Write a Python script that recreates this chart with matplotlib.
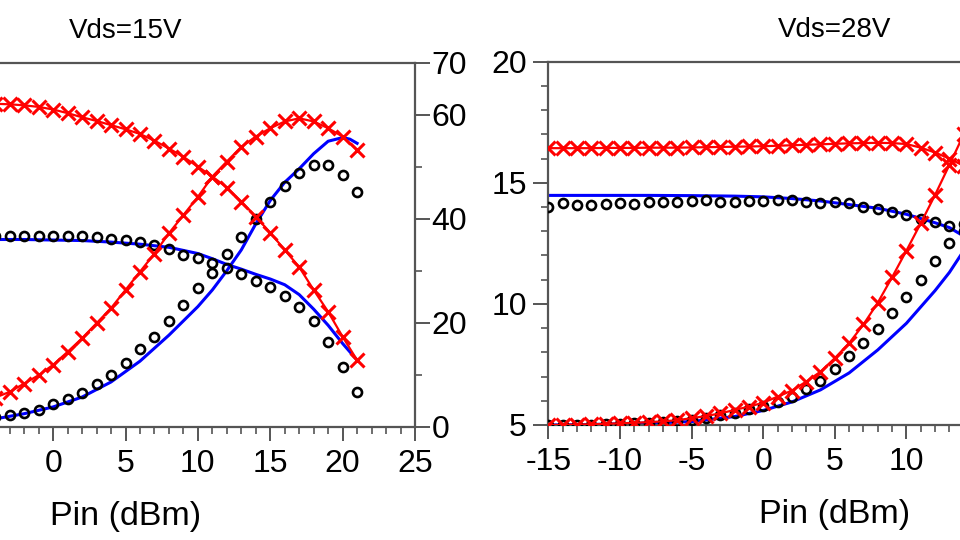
import matplotlib
matplotlib.use("Agg")
import matplotlib.pyplot as plt
from matplotlib.ticker import MultipleLocator, FixedLocator

plt.rcParams['font.family'] = ['Liberation Sans', 'DejaVu Sans']
plt.rcParams['axes.unicode_minus'] = False

# ---------------- Data: Vds = 15 V (values on right-hand axis scale) ----------------
pin15 = [-5, -4, -3, -2, -1, 0, 1, 2, 3, 4, 5, 6, 7, 8, 9, 10, 11, 12, 13, 14, 15, 16, 17, 18, 19, 20, 21]
gain15_meas_x = [62.3, 62.1, 62.0, 61.8, 61.5, 61.0, 60.3, 59.5, 58.8, 58.0, 57.2, 56.3, 55.0, 53.5, 51.9,
                 50.0, 48.1, 46.0, 43.3, 40.4, 37.3, 34.0, 30.7, 26.3, 22.1, 17.3, 12.8]
pae15_meas_x = [4.6, 5.6, 6.7, 8.3, 9.9, 11.9, 14.4, 17.0, 19.9, 22.8, 26.3, 29.8, 33.3, 37.2, 40.7,
                44.2, 48.1, 51.0, 53.8, 55.8, 57.4, 58.7, 59.3, 58.7, 57.4, 55.8, 53.2]
gain15_meas_o = [36.6, 36.6, 36.6, 36.6, 36.6, 36.6, 36.6, 36.6, 36.5, 36.1, 35.9, 35.5, 34.9, 34.1, 33.0,
                 32.4, 31.5, 30.6, 29.4, 28.1, 26.9, 25.1, 23.0, 20.4, 16.2, 11.5, 6.7]
pae15_meas_o = [1.5, 1.9, 2.25, 2.7, 3.3, 4.4, 5.3, 6.5, 8.2, 9.9, 12.2, 14.9, 17.3, 20.4, 23.4,
                26.6, 29.6, 33.2, 36.5, 39.9, 43.3, 46.3, 48.7, 50.3, 50.3, 48.4, 45.2]
pin15_sim = [-5, -4, -2, 0, 2, 4, 6, 8, 10, 11, 12, 13, 14, 15, 16, 17, 18, 19, 20, 20.5, 21]
gain15_sim = [36.0, 36.0, 36.0, 35.9, 35.8, 35.5, 35.1, 34.5, 33.3, 32.3, 31.2, 30.3, 29.3, 28.4, 27.3,
              25.4, 22.6, 19.5, 16.0, 14.4, 12.8]
pae15_sim = [1.2, 1.5, 2.5, 3.8, 5.7, 8.6, 12.6, 17.6, 23.1, 26.3, 30.0, 34.0, 39.0, 43.5, 47.0,
             49.6, 52.5, 54.9, 55.6, 55.3, 54.5]

# ---------------- Data: Vds = 28 V (values on left-hand axis scale) ----------------
pin28 = [-15, -14, -13, -12, -11, -10, -9, -8, -7, -6, -5, -4, -3, -2, -1, 0,
         1, 2, 3, 4, 5, 6, 7, 8, 9, 10, 11, 12, 13, 14, 15]
gain28_meas_x = [16.43, 16.43, 16.43, 16.43, 16.44, 16.44, 16.44, 16.45, 16.45, 16.45, 16.46, 16.47, 16.48,
                 16.49, 16.50, 16.51, 16.53, 16.55, 16.57, 16.59, 16.61, 16.63, 16.64, 16.65, 16.64, 16.60,
                 16.45, 16.25, 16.00, 15.70, 15.30]
pae28_meas_x = [5.0, 5.0, 5.02, 5.03, 5.05, 5.07, 5.09, 5.12, 5.15, 5.2, 5.28, 5.37, 5.48, 5.62, 5.76, 5.92,
                6.17, 6.42, 6.79, 7.2, 7.76, 8.38, 9.15, 10.05, 11.1, 12.2, 13.33, 14.5, 15.74, 17.0, 18.2]
gain28_meas_o = [14.02, 14.15, 14.08, 14.1, 14.13, 14.15, 14.13, 14.22, 14.2, 14.2, 14.25, 14.3, 14.22,
                 14.22, 14.25, 14.25, 14.3, 14.28, 14.22, 14.17, 14.2, 14.18, 14.0, 13.93, 13.8, 13.65,
                 13.5, 13.4, 13.2, 13.0, 12.7]
pae28_meas_o = [5.0, 5.0, 5.01, 5.02, 5.03, 5.05, 5.07, 5.1, 5.13, 5.16, 5.2, 5.27, 5.41, 5.48, 5.65, 5.79,
                5.96, 6.17, 6.47, 6.83, 7.3, 7.85, 8.38, 8.97, 9.64, 10.3, 10.99, 11.79, 12.5, 13.3, 14.1]
pin28_sim = [-15, -12, -10, -8, -5, -2, 0, 2, 4, 6, 8, 10, 12, 13, 14, 15]
gain28_sim = [14.48, 14.48, 14.48, 14.48, 14.47, 14.45, 14.42, 14.35, 14.25, 14.1, 13.95, 13.7, 13.35,
              13.15, 12.8, 12.4]
pae28_sim = [5.0, 5.02, 5.05, 5.08, 5.14, 5.35, 5.6, 5.95, 6.45, 7.15, 8.1, 9.2, 10.55, 11.3, 12.2, 13.0]

titles = ['Vds=15V', 'Vds=28V']
xlabel = 'Pin (dBm)'
xticks15 = [0, 5, 10, 15, 20, 25]
xticks28 = [-15, -10, -5, 0, 5, 10]

RED = '#ff0000'
BLUE = '#0000ff'
SPINE = '#555555'

fig = plt.figure(figsize=(9.6, 5.4), dpi=100)
axL = fig.add_axes([-164 / 960, 1 - 426.7 / 540, 579 / 960, 364 / 540])
axR = fig.add_axes([548.3 / 960, 1 - 425 / 540, 573 / 960, 363.3 / 540])

xkw = dict(marker='x', color=RED, lw=1.6, ms=10.5, mew=2.2)
okw = dict(marker='o', ls='none', mfc='none', mec='black', ms=6.5, mew=1.9)
lkw = dict(color=BLUE, lw=2.2)

# Left panel
axL.plot(pin15_sim, gain15_sim, **lkw, zorder=2)
axL.plot(pin15_sim, pae15_sim, **lkw, zorder=2)
axL.plot(pin15, gain15_meas_o, **okw, zorder=3)
axL.plot(pin15, pae15_meas_o, **okw, zorder=3)
axL.plot(pin15, gain15_meas_x, **xkw, zorder=4)
axL.plot(pin15, pae15_meas_x, **xkw, zorder=4)
axL.set_xlim(-15, 25)
axL.set_ylim(0, 70)
axL.yaxis.tick_right()
axL.yaxis.set_major_locator(FixedLocator([0, 20, 40, 60, 70]))
axL.yaxis.set_minor_locator(FixedLocator([10, 30, 50]))
axL.xaxis.set_major_locator(FixedLocator(xticks15))
axL.tick_params(axis='y', which='major', pad=1)

# Right panel
axR.plot(pin28_sim, gain28_sim, **lkw, zorder=2)
axR.plot(pin28_sim, pae28_sim, **lkw, zorder=2)
axR.plot(pin28, gain28_meas_o, **okw, zorder=3)
axR.plot(pin28, pae28_meas_o, **okw, zorder=3)
axR.plot(pin28, gain28_meas_x, **xkw, zorder=4)
axR.plot(pin28, pae28_meas_x, **xkw, zorder=4)
axR.set_xlim(-15, 25)
axR.set_ylim(5, 20)
axR.yaxis.set_major_locator(MultipleLocator(5))
axR.yaxis.set_minor_locator(MultipleLocator(1))
axR.xaxis.set_major_locator(FixedLocator(xticks28))

for ax, t in zip([axL, axR], titles):
    ax.xaxis.set_minor_locator(MultipleLocator(1))
    for s in ax.spines.values():
        s.set_color(SPINE)
        s.set_linewidth(1.6)
    ax.tick_params(which='major', direction='out', length=10, width=1.4, color=SPINE,
                   labelsize=23)
    ax.tick_params(axis='x', which='major', pad=6)
    ax.tick_params(axis='y', which='major', length=11)
    ax.tick_params(which='minor', direction='out', length=5, width=1.2, color=SPINE)
    ax.set_title(t, fontsize=20, pad=18)
    ax.set_xlabel(xlabel, fontsize=24.5, labelpad=16)

axR.tick_params(axis='y', which='major', pad=4.5)

fig.savefig('out.png', dpi=100)
